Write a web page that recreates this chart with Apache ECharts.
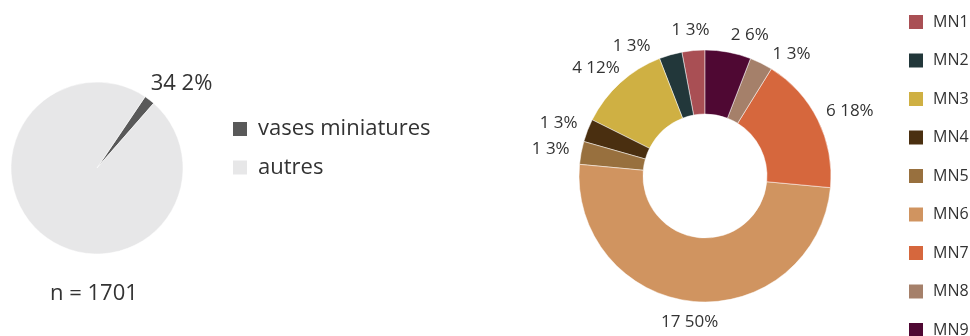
<!DOCTYPE html>
<html>
<head>
<meta charset="utf-8">
<script src="https://cdn.jsdelivr.net/npm/echarts@6/dist/echarts.min.js"></script>
<style>html,body{margin:0;padding:0;background:#fff}#c{width:970px;height:336px}</style>
</head>
<body>
<div id="c"></div>
<script>
var leftNames = ['vases miniatures', 'autres'];
var leftValues = [34, 1667];
var leftColors = ['#595959', '#E7E7E8'];
var totalLabel = 'n = 1701';

var mnNames = ['MN1', 'MN2', 'MN3', 'MN4', 'MN5', 'MN6', 'MN7', 'MN8', 'MN9'];
var mnValues = [1, 1, 4, 1, 1, 17, 6, 1, 2];
var mnColors = ['#A94F54', '#22373A', '#CFB043', '#4A2F10', '#98703E', '#D09460', '#D6673D', '#A5806A', '#4F0833'];

var FONT = '"Open Sans", sans-serif';
var TXT = '#333333';
var MN_FONT_SIZE = 17;

function sum(a) { return a.reduce(function (s, v) { return s + v; }, 0); }
var leftTotal = sum(leftValues);
var mnTotal = sum(mnValues);

function mnLabelText(i) {
  return mnValues[i] + ' ' + Math.round(mnValues[i] / mnTotal * 100) + '%';
}

var leftData = leftNames.map(function (n, i) { return { name: n, value: leftValues[i] }; });
var mnData = mnNames.map(function (n, i) { return { name: n, value: mnValues[i] }; });

// donut geometry (layout constants)
var DONUT_CENTER = [705, 176];
var DONUT_RADIUS = [62, 126];
var LABEL_R = 138;
var GAP = 20;

// Place each donut label just outside the ring along its mid angle; labels are placed
// outward from the top, and a label that collides with one already placed is pushed
// further along the ring (left half counter-clockwise, right half clockwise).
var mnLabelPos = null;
function computeMnLabels(h) {
  var ctx = document.createElement('canvas').getContext('2d');
  ctx.font = MN_FONT_SIZE + 'px ' + FONT;
  var mids = [], before = 0;
  for (var i = 0; i < mnValues.length; i++) {
    var th = -(before + mnValues[i] / 2) / mnTotal * 360;
    if (th < -180) th += 360;
    mids.push(th);
    before += mnValues[i];
  }
  var order = [];
  for (i = 0; i < mids.length; i++) if (mids[i] <= 0) order.push(i);
  for (i = mids.length - 1; i >= 0; i--) if (mids[i] > 0) order.push(i);
  var placed = [], pos = [];
  function overlaps(a, b) {
    return a.x < b.x + b.w + GAP && b.x < a.x + a.w + GAP && a.y < b.y + b.h && b.y < a.y + a.h;
  }
  order.forEach(function (idx) {
    var theta = mids[idx], step = theta > 0 ? 1 : -1;
    var w = ctx.measureText(mnLabelText(idx)).width, box;
    for (var k = 0; k < 90; k++) {
      var t = theta * Math.PI / 180, s = Math.sin(t), c = Math.cos(t);
      var cx = DONUT_CENTER[0] + LABEL_R * s + s * w / 2;
      var cy = DONUT_CENTER[1] - LABEL_R * c - c * h / 2;
      box = { x: cx - w / 2, y: cy - h / 2, w: w, h: h, cx: cx, cy: cy };
      if (!placed.some(function (b) { return overlaps(box, b); })) break;
      theta += step;
    }
    placed.push(box);
    pos[idx] = box;
  });
  return pos;
}
function mnLabelLayout(p) {
  if (!mnLabelPos) mnLabelPos = computeMnLabels(p.labelRect.height);
  var b = mnLabelPos[p.dataIndex];
  return { x: b.cx, y: b.cy, align: 'center', verticalAlign: 'middle' };
}

var chart = echarts.init(document.getElementById('c'));
chart.setOption({
  animation: false,
  title: {
    text: totalLabel, left: 45, top: 278,
    textStyle: { fontFamily: FONT, fontSize: 22, fontWeight: 'normal', color: TXT }
  },
  legend: [{
    data: leftNames, orient: 'vertical', left: 231, top: 118, padding: 0,
    itemWidth: 16, itemHeight: 16, itemGap: 16.5,
    icon: 'rect',
    textStyle: { fontFamily: FONT, fontSize: 22, color: TXT, padding: [0, 0, 0, 5] }
  }, {
    data: mnNames, orient: 'vertical', left: 907, top: 13, padding: 0, height: 420,
    itemWidth: 16, itemHeight: 16, itemGap: 20.5,
    icon: 'rect',
    textStyle: { fontFamily: FONT, fontSize: 16, color: TXT, padding: [0, 0, 0, 4] }
  }],
  series: [{
    type: 'pie',
    center: [97, 168], radius: 86,
    startAngle: 56, clockwise: true,
    avoidLabelOverlap: false,
    color: leftColors,
    data: leftData,
    itemStyle: { borderColor: '#fff', borderWidth: 0.5 },
    label: {
      show: true, position: 'outside', distanceToLabelLine: 0,
      fontFamily: FONT, fontSize: 22, color: TXT,
      formatter: function (p) {
        return p.dataIndex === 0 ? p.value + ' ' + Math.round(p.value / leftTotal * 100) + '%' : '';
      }
    },
    labelLine: { show: false, length: 2, length2: 0 },
    labelLayout: { dy: -15 },
    silent: true
  }, {
    type: 'pie',
    center: DONUT_CENTER, radius: DONUT_RADIUS,
    startAngle: 90, clockwise: false,
    avoidLabelOverlap: false,
    color: mnColors,
    data: mnData,
    itemStyle: { borderColor: '#fff', borderWidth: 0.5 },
    label: {
      show: true, position: 'outside',
      fontFamily: FONT, fontSize: MN_FONT_SIZE, color: TXT,
      formatter: function (p) { return mnLabelText(p.dataIndex); }
    },
    labelLine: { show: false },
    labelLayout: mnLabelLayout,
    silent: true
  }]
});
</script>
</body>
</html>
